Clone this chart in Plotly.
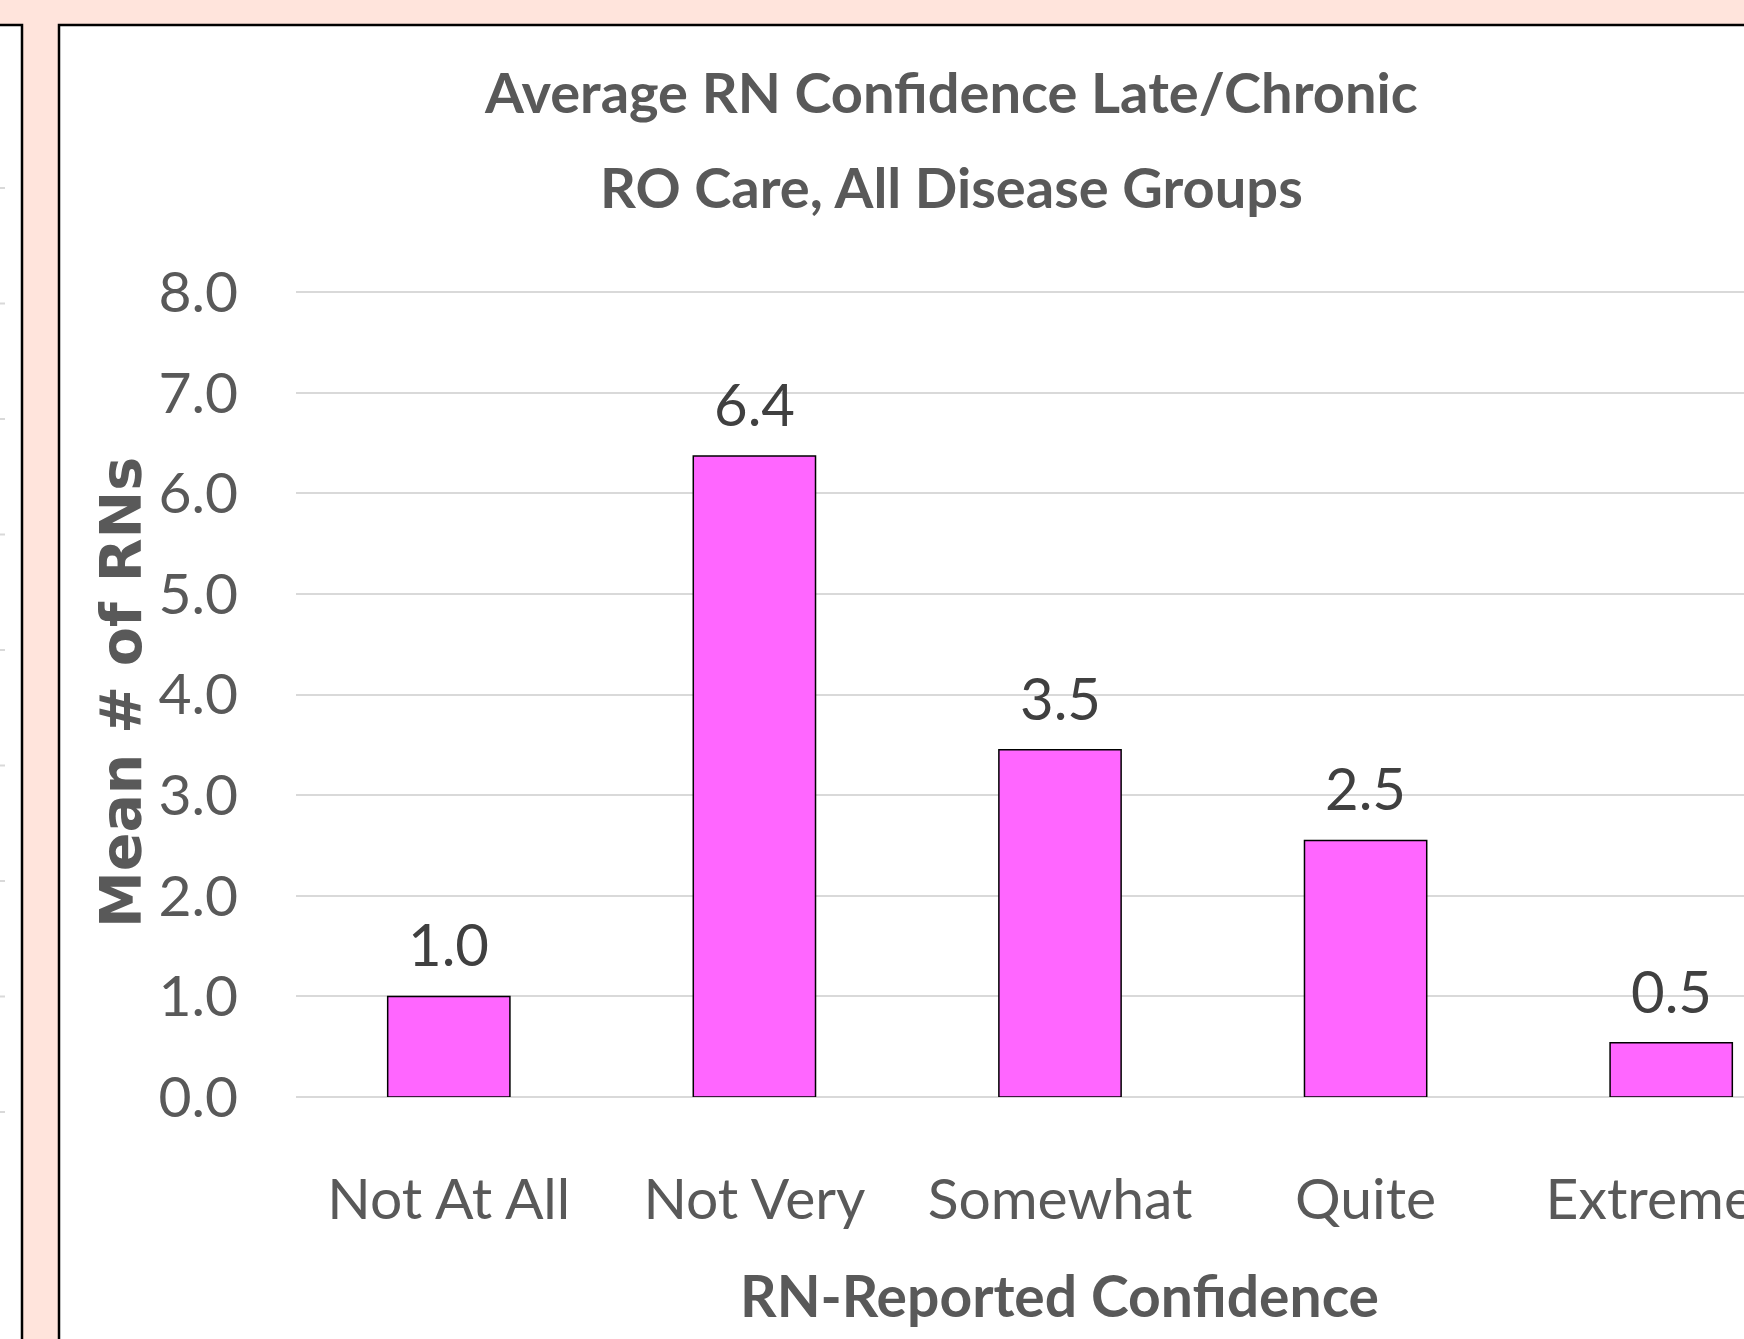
import plotly.graph_objects as go

categories = ["Not At All", "Not Very", "Somewhat", "Quite", "Extremely"]
mean_rns = [1.0, 6.37, 3.45, 2.55, 0.54]
value_labels = ["1.0", "6.4", "3.5", "2.5", "0.5"]
y_ticks = [0, 1, 2, 3, 4, 5, 6, 7, 8]
y_tick_text = ["0.0", "1.0", "2.0", "3.0", "4.0", "5.0", "6.0", "7.0", "8.0"]
title_lines = ["Average RN Confidence Late/Chronic", "RO Care, All Disease Groups"]
x_title = "RN-Reported Confidence"
y_title = "Mean # of RNs"

W, H = 1744, 1339
L, R, T, B = 296, 0, 290, 242
PW, PH = W - L - R, H - T - B
Y_MAX = 8.02

FONT = "Lato, DejaVu Sans Condensed, sans-serif"
YT_FONT = "DejaVu Sans, Verdana, sans-serif"
GRAY = "#595959"
PINK_BG = "#FFE4DC"


def px_x(px):
    return (px - L) / PW


def px_y(py):
    return (H - B - py) / PH


fig = go.Figure()
fig.add_trace(go.Bar(
    x=categories, y=mean_rns, width=0.4,
    marker=dict(color="#FF66FF", line=dict(color="#000000", width=1.5)),
    hoverinfo="skip", showlegend=False,
))

for c, v, t in zip(categories, mean_rns, value_labels):
    fig.add_annotation(x=c, y=v, text=t, showarrow=False, yanchor="bottom",
                       yshift=16, font=dict(family=FONT, size=58, color="#404040"))

# title lines
for i, line in enumerate(title_lines):
    fig.add_annotation(xref="paper", yref="paper", x=px_x(951), y=px_y([114, 209][i]),
                       xanchor="center", yanchor="bottom", yshift=-13,
                       text="<b>" + line + "</b>", showarrow=False,
                       font=dict(family=FONT, size=56, color=GRAY))

# axis titles
fig.add_annotation(xref="paper", yref="paper", x=px_x(1059), y=px_y(1318),
                   xanchor="center", yanchor="bottom", yshift=-13,
                   text="<b>" + x_title + "</b>", showarrow=False,
                   font=dict(family=FONT, size=57, color=GRAY))
fig.add_annotation(xref="paper", yref="paper", x=px_x(121), y=px_y(693),
                   xanchor="center", yanchor="middle", textangle=-90,
                   text="<b>" + y_title + "</b>", showarrow=False,
                   font=dict(family=YT_FONT, size=57, color=GRAY))

shapes = []
# main chart panel
shapes.append(dict(type="rect", xref="paper", yref="paper", layer="below",
                   x0=px_x(59), x1=px_x(W + 50), y0=px_y(H + 50), y1=px_y(25),
                   fillcolor="white", line=dict(color="black", width=2.5)))
# neighbouring panel on the left
shapes.append(dict(type="rect", xref="paper", yref="paper", layer="below",
                   x0=px_x(-50), x1=px_x(22), y0=px_y(H + 50), y1=px_y(25),
                   fillcolor="white", line=dict(color="black", width=2.5)))
# gridline stubs from left panel
for gy in [188, 303.5, 419, 534.5, 650, 765.5, 881, 996.5, 1112]:
    shapes.append(dict(type="line", xref="paper", yref="paper", layer="below",
                       x0=px_x(-2), x1=px_x(5), y0=px_y(gy), y1=px_y(gy),
                       line=dict(color="#D9D9D9", width=2)))

fig.update_layout(
    width=W, height=H, autosize=False,
    margin=dict(l=L, r=R, t=T, b=B, pad=0),
    paper_bgcolor=PINK_BG, plot_bgcolor="rgba(0,0,0,0)",
    shapes=shapes,
    bargap=0.6,
    xaxis=dict(range=[-0.5, -0.5 + PW / 305.6], type="category", automargin=False,
               showgrid=False, zeroline=False, showline=False, ticks="",
               tickfont=dict(family=FONT, size=57, color=GRAY),
               ticklabelstandoff=64),
    yaxis=dict(range=[0, Y_MAX], tickvals=y_ticks, ticktext=y_tick_text, automargin=False,
               showgrid=True, gridcolor="#D9D9D9", gridwidth=1.5,
               zeroline=True, zerolinecolor="#D9D9D9", zerolinewidth=1.5,
               showline=False, ticks="",
               tickfont=dict(family=FONT, size=57, color=GRAY),
               ticklabelstandoff=57),
)

fig.write_html("out.html", config={"displayModeBar": False},
               post_script="document.body.style.margin='0';")
